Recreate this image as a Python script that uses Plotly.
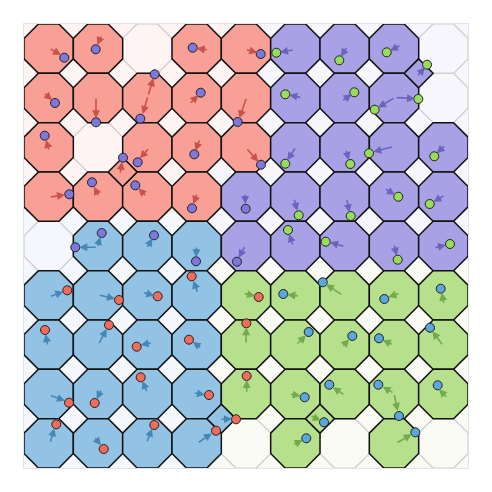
import math
import plotly.graph_objects as go

# ---------------- data ----------------
# grid of octagon cells (row 0 = top). Upper case = filled cell of that group,
# lower case = empty cell tinted with that group.
GRID_ROWS = [
    "RRrRRPPPp",
    "RRRRRPPPp",
    "RrRRRPPPP",
    "RRRRPPPPP",
    "bBBBPPPPP",
    "BBBBGGGGG",
    "BBBBGGGGG",
    "BBBBGGGGG",
    "BBBBgGgGg",
]
# filled square (diamond) cells located at lattice corners
DIAMOND_ROWS = [1, 3, 8, 8]
DIAMOND_COLS = [8, 2, 4, 6]
DIAMOND_GROUPS = ["P", "R", "B", "G"]

POINT_X = [64.3, 95.7, 192.7, 260.7, 276.3, 339.3, 386.7, 427, 55, 96, 154.7, 140.3, 200.7, 237.7,
           285.3, 354.3, 374.7, 418.3, 44.7, 123, 137.7, 194.3, 261, 285.3, 350.3, 369, 434.3,
           69.3, 92, 135.3, 192, 245.7, 298.7, 350.7, 398.3, 429.7, 101.7, 75.3, 154, 196, 237,
           288, 325.7, 397.7, 450, 67.3, 119, 157.7, 191.7, 258.7, 283.3, 322.7, 384.3, 440.7,
           45, 109, 136.7, 189, 246.3, 308.7, 352.3, 379, 430, 69, 94.7, 140.7, 209, 246.7,
           304.7, 329.3, 378.3, 399, 437.7, 56.3, 103.7, 154.3, 216, 236, 324, 306.3, 415.3]
POINT_Y = [57.7, 49.3, 47.7, 54, 52.7, 60.3, 52.3, 64.7, 103, 122.3, 74.3, 118.7, 92.7, 122,
           94.3, 92.3, 109.7, 99, 135.7, 157.7, 162.3, 154.3, 164.7, 163.7, 164, 153.3, 156.3,
           194.3, 182.3, 185.3, 208.3, 208.7, 215.3, 216, 196.7, 204, 233, 247.3, 235.3, 261.3, 261.7,
           230, 241.7, 259.7, 244, 290.3, 300, 296.3, 276.3, 297, 294, 282.3, 299, 288.7,
           330, 325, 346.7, 339.7, 323.3, 332, 336, 338.3, 327.7, 402.7, 403, 377.3, 395, 376,
           397.3, 384.7, 384.7, 416, 385.3, 424.3, 449, 425, 430.7, 419.3, 422.3, 438.3, 432.3]
POINT_COLOR = (["pu"] * 4 + ["gr"] * 4 + ["pu"] * 6 + ["gr"] * 4 + ["pu"] * 5 + ["gr"] * 4
               + ["pu"] * 5 + ["gr"] * 4 + ["pu"] * 5 + ["gr"] * 4 + ["re"] * 5 + ["bl"] * 4
               + ["re"] * 5 + ["bl"] * 4 + ["re"] * 5 + ["bl"] * 5 + ["re"] * 5 + ["bl"] * 3)

ARROW_X0 = [49, 101.7, 208.3, 245.3, 294, 347.3, 401, 416.7, 43.3, 96, 148, 148, 189.3, 246.7,
            301.7, 341.7, 395, 395, 49.3, 120, 149.3, 200, 246, 296, 346, 393.3, 445.7,
            49.3, 99, 146.7, 197.3, 245, 294, 346.7, 384.3, 445, 97.3, 97.3, 146.7, 196.7, 245.3,
            293.3, 345, 394, 434, 49.3, 98.3, 142.7, 198, 243.3, 299.3, 342.7, 400, 444,
            47.7, 98.3, 152.3, 201.7, 246, 296, 341.7, 393.3, 443.3, 49.3, 101.7, 147.3, 193.3, 246.7,
            289.3, 345, 394, 394, 447.7, 50, 94, 146.7, 197.3, 220, 310, 292.7, 396]
ARROW_Y0 = [48, 35, 50, 49.3, 49.7, 46.7, 45, 76.7, 92.7, 97.3, 96, 96, 104.3, 97.3,
            97.7, 101, 97.5, 97.5, 151, 174, 147.7, 139, 147.7, 147, 149.3, 146.7, 145,
            197.3, 196.7, 196.7, 193.3, 193.3, 198.3, 198.3, 188.3, 195, 247.3, 247.3, 248.3, 246, 245.7,
            246, 246.7, 244, 248, 296.7, 295, 292.3, 293.3, 293.3, 296, 295.3, 293.3, 304.3,
            346, 344.3, 342.7, 348.3, 344, 345, 347.3, 345, 345.7, 395, 389, 392.7, 392.7, 393.3,
            394, 395.3, 393.3, 393.3, 398.3, 443.3, 436.7, 442.7, 443.3, 419.3, 415.3, 445, 443.3]
ARROW_X1 = [61, 97.3, 196.7, 257.3, 280, 340.7, 390, 425, 52.3, 96, 153.3, 142.7, 198.3, 239.3,
            289.3, 351.7, 378, 415, 46, 122, 140, 195.3, 258.3, 287.3, 348.7, 373.3, 436.7,
            65, 94, 138.3, 193.3, 245.3, 297.3, 349.3, 395, 433.3, 100.3, 79.3, 152.3, 196, 238.7,
            289, 330, 396.7, 446, 63.3, 115, 154.3, 193.3, 255, 287.3, 326, 388.3, 441.7,
            45.7, 106.7, 140.7, 192.7, 246.3, 306, 349.3, 382.7, 432.3, 65, 96.7, 142.3, 205, 246.7,
            300.7, 332.7, 382.7, 397.7, 439, 54.3, 101, 152, 212, 232, 320.7, 302.7, 411.7]
ARROW_Y1 = [55, 45, 48.3, 52.7, 52.3, 56.7, 50.7, 67.3, 100, 118.3, 78.3, 114, 95, 118.3,
            95, 94.3, 107.5, 98.7, 140, 161.7, 158.3, 150.7, 161.7, 160.3, 160, 151.7, 153.3,
            194.7, 186.7, 188.3, 204, 204, 210.7, 212.3, 194.7, 202, 237, 247.3, 238.3, 257.3, 257.7,
            234, 242.3, 255.7, 245, 291.7, 298.7, 295.7, 280.7, 296, 294.7, 284.3, 297, 292.7,
            334, 329, 345, 342, 327.3, 335.3, 339.3, 340, 331.3, 400.7, 399.3, 381, 394.7, 380,
            396, 387.3, 386.7, 411, 389.3, 428.3, 445.3, 428.7, 433.3, 419, 420.7, 440, 434.3]
ARROW_GROUP = (["R"] * 4 + ["P"] * 4 + ["R"] * 6 + ["P"] * 4 + ["R"] * 5 + ["P"] * 4
               + ["R"] * 4 + ["P"] * 5 + ["B"] * 4 + ["P"] * 5 + ["B"] * 4 + ["G"] * 5
               + ["B"] * 4 + ["G"] * 5 + ["B"] * 4 + ["G"] * 6 + ["B"] * 5 + ["G"] * 3)

# ---------------- styles ----------------
FILL = {"R": "#f9a096", "P": "#a9a1e6", "B": "#93c3e4", "G": "#b7e08d"}
TINT = {"R": "#fef4f3", "P": "#f7f6fd", "B": "#f4f8fc", "G": "#f9fbf4"}
ARROW_COL = {"R": "#c9524c", "P": "#6d63bf", "B": "#4787b5", "G": "#73aa4b"}
PT_COL = {"pu": "#7f78dc", "gr": "#97dc5a", "re": "#f26c5b", "bl": "#5ba6dc"}

ORIGIN = 24.0
S = 444.0 / 9
A = S / (1 + math.sqrt(2))


def octagon(cx, cy):
    h, q = S / 2, A / 2
    pts = [(cx - q, cy - h), (cx + q, cy - h), (cx + h, cy - q), (cx + h, cy + q),
           (cx + q, cy + h), (cx - q, cy + h), (cx - h, cy + q), (cx - h, cy - q)]
    return "M " + " L ".join(f"{x:.2f},{y:.2f}" for x, y in pts) + " Z"


def diamond(cx, cy):
    d = A / math.sqrt(2)
    pts = [(cx - d, cy), (cx, cy - d), (cx + d, cy), (cx, cy + d)]
    return "M " + " L ".join(f"{x:.2f},{y:.2f}" for x, y in pts) + " Z"


shapes = []
# background lattice
for r in range(10):
    for c in range(10):
        g = GRID_ROWS[min(r, 8)][min(c, 8)].upper()
        shapes.append(dict(type="path", path=diamond(ORIGIN + c * S, ORIGIN + r * S),
                           xref="x", yref="y", fillcolor=TINT[g],
                           line=dict(color="#cfcfcf", width=1.2), layer="below"))
for r, row in enumerate(GRID_ROWS):
    for c, g in enumerate(row):
        shapes.append(dict(type="path",
                           path=octagon(ORIGIN + (c + 0.5) * S, ORIGIN + (r + 0.5) * S),
                           xref="x", yref="y", fillcolor=TINT[g.upper()],
                           line=dict(color="#cfcfcf", width=1.2), layer="below"))
# filled cells
for r, row in enumerate(GRID_ROWS):
    for c, g in enumerate(row):
        if g.isupper():
            shapes.append(dict(type="path",
                               path=octagon(ORIGIN + (c + 0.5) * S, ORIGIN + (r + 0.5) * S),
                               xref="x", yref="y", fillcolor=FILL[g],
                               line=dict(color="#111111", width=1.5), layer="below"))
for r, c, g in zip(DIAMOND_ROWS, DIAMOND_COLS, DIAMOND_GROUPS):
    shapes.append(dict(type="path", path=diamond(ORIGIN + c * S, ORIGIN + r * S),
                       xref="x", yref="y", fillcolor=FILL[g],
                       line=dict(color="#111111", width=1.5), layer="below"))

annotations = []
for x0, y0, x1, y1, g in zip(ARROW_X0, ARROW_Y0, ARROW_X1, ARROW_Y1, ARROW_GROUP):
    annotations.append(dict(x=x1, y=y1, ax=x0, ay=y0, xref="x", yref="y", axref="x", ayref="y",
                            text="", showarrow=True, arrowhead=2, arrowsize=1.0,
                            arrowwidth=1.6, arrowcolor=ARROW_COL[g], standoff=0))

fig = go.Figure()
fig.add_trace(go.Scatter(
    x=POINT_X, y=POINT_Y, mode="markers",
    marker=dict(size=9, color=[PT_COL[k] for k in POINT_COLOR],
                line=dict(color="#222222", width=1)),
    hoverinfo="skip", showlegend=False))

axis = dict(showgrid=False, zeroline=False, showticklabels=False, ticks="",
            showline=True, mirror=True, linecolor="#e3e3e3", linewidth=1)
fig.update_layout(
    width=492, height=492, margin=dict(l=24, r=24, t=24, b=24),
    paper_bgcolor="white", plot_bgcolor="white",
    xaxis=dict(range=[24, 468], **axis),
    yaxis=dict(range=[468, 24], **axis),
    shapes=shapes, annotations=annotations, showlegend=False,
)
fig.write_html("out.html")
